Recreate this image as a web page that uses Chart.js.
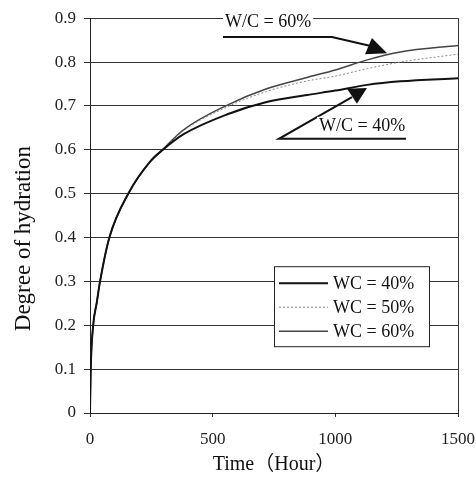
<!DOCTYPE html>
<html>
<head>
<meta charset="utf-8">
<script src="https://cdn.jsdelivr.net/npm/chart.js@4.4.1/dist/chart.umd.min.js"></script>
<style>
  html, body { margin: 0; padding: 0; background: #fff; }
  #wrap { width: 476px; height: 478px; position: relative; }
</style>
</head>
<body>
<div id="wrap"><canvas id="chart"></canvas></div>
<script>
// time (hour) where the curves were read
const hours = [0, 3, 13, 27, 41, 79, 156, 245, 297, 380, 560, 720, 885, 1000, 1130, 1265, 1500];
// degree of hydration
const wc40 = [0, 0.1, 0.2, 0.25, 0.3, 0.4, 0.5, 0.573, 0.6, 0.635, 0.681, 0.709, 0.725, 0.735, 0.748, 0.756, 0.763];
const wc50 = [0, 0.1, 0.2, 0.25, 0.3, 0.4, 0.5, 0.573, 0.6, 0.643, 0.698, 0.733, 0.757, 0.768, 0.785, 0.800, 0.818];
const wc60 = [0, 0.1, 0.2, 0.25, 0.3, 0.4, 0.5, 0.573, 0.601, 0.645, 0.702, 0.739, 0.765, 0.782, 0.805, 0.823, 0.838];
const seriesLabels = ["WC = 40%", "WC = 50%", "WC = 60%"];
const xTicks = [0, 500, 1000, 1500];
const yTicks = [0, 0.1, 0.2, 0.3, 0.4, 0.5, 0.6, 0.7, 0.8, 0.9];

// callouts, in data units [hour, degree]
const label60 = { text: "W/C = 60%", at: [726, 0.893] };
const leader60 = [[542, 0.857], [986, 0.857], [1149, 0.836]];
const head60 = [[1121, 0.818], [1149, 0.855], [1211, 0.820]];
const label40 = { text: "W/C = 40%", at: [1109, 0.657] };
const leader40 = [[1288, 0.625], [770, 0.625], [1068, 0.72]];
const head40 = [[1048, 0.739], [1129, 0.741], [1088, 0.705]];

const serif = "'Liberation Serif', 'DejaVu Serif', serif";

const toPts = (ys) => hours.map((h, i) => ({ x: h, y: ys[i] }));

const calloutPlugin = {
  id: "callouts",
  afterDatasetsDraw(chart) {
    const { ctx, scales: { x, y } } = chart;
    const px = (p) => [x.getPixelForValue(p[0]), y.getPixelForValue(p[1])];
    ctx.save();
    ctx.strokeStyle = "#111";
    ctx.fillStyle = "#111";
    ctx.lineWidth = 2;
    [leader60, leader40].forEach(line => {
      ctx.beginPath();
      line.forEach((p, i) => {
        const [a, b] = px(p);
        i ? ctx.lineTo(a, b) : ctx.moveTo(a, b);
      });
      ctx.stroke();
    });
    [head60, head40].forEach(tri => {
      ctx.beginPath();
      tri.forEach((p, i) => {
        const [a, b] = px(p);
        i ? ctx.lineTo(a, b) : ctx.moveTo(a, b);
      });
      ctx.closePath();
      ctx.fill();
    });
    ctx.font = "18px " + serif;
    ctx.textAlign = "center";
    ctx.textBaseline = "middle";
    [label60, label40].forEach(l => {
      const [a, b] = px(l.at);
      const w = ctx.measureText(l.text).width;
      ctx.fillStyle = "#fff";
      ctx.fillRect(a - w / 2 - 2, b - 8, w + 4, 16);
      ctx.fillStyle = "#111";
      ctx.fillText(l.text, a, b + 1);
    });
    ctx.restore();
  }
};

const legendPlugin = {
  id: "boxLegend",
  afterDraw(chart) {
    const { ctx, chartArea } = chart;
    const left = chartArea.right - 184, top = chartArea.top + 248;
    ctx.save();
    ctx.fillStyle = "#fff";
    ctx.fillRect(left, top, 155, 80);
    ctx.strokeStyle = "#222";
    ctx.lineWidth = 1;
    ctx.strokeRect(left + 0.5, top + 0.5, 155, 80);
    ctx.font = "18px " + serif;
    ctx.textBaseline = "middle";
    chart.data.datasets.forEach((ds, i) => {
      const yy = top + 17 + i * 24;
      ctx.beginPath();
      ctx.strokeStyle = ds.borderColor;
      ctx.lineWidth = ds.borderWidth;
      ctx.setLineDash(ds.borderDash || []);
      ctx.moveTo(left + 5, yy);
      ctx.lineTo(left + 54, yy);
      ctx.stroke();
      ctx.setLineDash([]);
      ctx.fillStyle = "#111";
      ctx.fillText(ds.label, left + 59, yy + 1);
    });
    ctx.restore();
  }
};

new Chart(document.getElementById("chart"), {
  type: "line",
  data: {
    datasets: [
      { label: seriesLabels[0], data: toPts(wc40), borderColor: "#111", borderWidth: 2 },
      { label: seriesLabels[1], data: toPts(wc50), borderColor: "#888", borderWidth: 1, borderDash: [2, 2] },
      { label: seriesLabels[2], data: toPts(wc60), borderColor: "#444", borderWidth: 1.5 }
    ]
  },
  options: {
    responsive: true,
    maintainAspectRatio: false,
    animation: false,
    cubicInterpolationMode: "monotone",
    elements: { point: { radius: 0 } },
    layout: { padding: { top: 17, right: 0, left: 0, bottom: 0 } },
    plugins: { legend: { display: false }, tooltip: { enabled: false } },
    scales: {
      x: {
        type: "linear",
        min: 0,
        max: 1500,
        afterBuildTicks: (s) => { s.ticks = xTicks.map(v => ({ value: v })); },
        afterFit: (s) => { s.height = 65; s.paddingLeft = 0; s.paddingRight = 18; },
        ticks: {
          font: { family: serif, size: 17 },
          color: "#222",
          padding: 12,
          maxRotation: 0,
          callback: (v) => String(v)
        },
        grid: {
          color: (c) => (c.tick && c.tick.value === 1500 ? "#333" : "rgba(0,0,0,0)"),
          tickColor: "#333",
          tickLength: 4
        },
        border: { color: "#222" },
        title: {
          display: true,
          text: "Time（Hour）",
          font: { family: serif + ", 'Noto Sans CJK JP'", size: 20 },
          color: "#111",
          padding: { top: 0, bottom: 1 }
        }
      },
      y: {
        min: 0,
        max: 0.9,
        afterBuildTicks: (s) => { s.ticks = yTicks.map(v => ({ value: v })); },
        afterFit: (s) => { s.width = 90; },
        ticks: {
          font: { family: serif, size: 17 },
          color: "#222",
          padding: 8,
          callback: (v) => (v === 0 ? "0" : v.toFixed(1))
        },
        grid: { color: "#333", lineWidth: 1, tickLength: 6 },
        border: { color: "#222" },
        title: {
          display: true,
          text: "Degree of hydration        ",
          font: { family: serif, size: 23 },
          color: "#111",
          padding: { top: 10, bottom: 0 }
        }
      }
    }
  },
  plugins: [calloutPlugin, legendPlugin]
});
</script>
</body>
</html>
